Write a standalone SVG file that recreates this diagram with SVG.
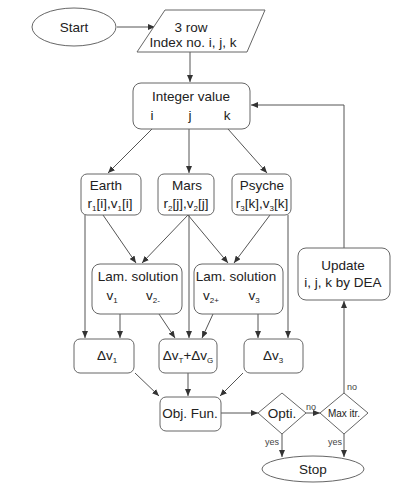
<svg xmlns="http://www.w3.org/2000/svg" width="420" height="489" viewBox="0 0 420 489">
<defs>
<marker id="ah" markerWidth="7" markerHeight="6" refX="7" refY="3" orient="auto" markerUnits="userSpaceOnUse"><path d="M0,0 L7,3 L0,6 z" fill="#333"/></marker>
<style>
.n{fill:#fff;stroke:#666;stroke-width:1}
.c line,.c polyline{stroke:#555;stroke-width:1;fill:none;marker-end:url(#ah)}
text{font-family:"Liberation Sans",Arial,sans-serif;fill:#222;text-anchor:middle}
.t{font-size:13.5px}
.s{font-size:9px;fill:#444}
.sub{font-size:8px}
</style>
</defs>
<rect width="420" height="489" fill="#fff"/>
<g class="c">
<line x1="117" y1="27" x2="155" y2="27"/>
<line x1="190" y1="52" x2="190" y2="82"/>
<line x1="152" y1="129" x2="108" y2="173"/>
<line x1="189" y1="129" x2="189" y2="173"/>
<line x1="228" y1="129" x2="267" y2="173"/>
<line x1="85" y1="215" x2="85" y2="338"/>
<line x1="103" y1="215" x2="136" y2="263"/>
<line x1="188" y1="215" x2="142" y2="263"/>
<line x1="188" y1="215" x2="228" y2="263"/>
<line x1="189" y1="215" x2="189" y2="338"/>
<line x1="270" y1="215" x2="234" y2="263"/>
<line x1="288" y1="215" x2="288" y2="338"/>
<line x1="120" y1="314" x2="120" y2="338"/>
<line x1="159" y1="314" x2="175" y2="338"/>
<line x1="213" y1="314" x2="202" y2="338"/>
<line x1="258" y1="314" x2="258" y2="338"/>
<line x1="135" y1="373" x2="159" y2="396"/>
<line x1="188" y1="373" x2="188" y2="396"/>
<line x1="243" y1="373" x2="220" y2="396"/>
<line x1="221" y1="413" x2="258" y2="413"/>
<line x1="306" y1="413" x2="320" y2="413"/>
<polyline points="344,393 344,301"/>
<polyline points="344,248 344,105 251,105"/>
<line x1="282" y1="434" x2="282" y2="457"/>
<line x1="344" y1="434" x2="344" y2="457"/>
<text class="s" x="311" y="410">no</text>
<text class="s" x="352" y="390">no</text>
<text class="s" x="272" y="445">yes</text>
<text class="s" x="335" y="445">yes</text>
</g>
<g id="start"><ellipse class="n" cx="74" cy="27" rx="42" ry="19"/><text class="t" x="74" y="32">Start</text></g>
<g id="input"><polygon class="n" points="165,10 265,10 247,52 137,52"/><text class="t" x="191" y="32">3 row</text><text class="t" x="193" y="47">Index no. i, j, k</text></g>
<g id="integer"><rect class="n" x="133" y="83" width="117" height="46" rx="8"/><text class="t" x="191" y="101">Integer value</text><text class="t" x="152" y="120">i</text><text class="t" x="190" y="120">j</text><text class="t" x="227" y="120">k</text></g>
<g id="earth"><rect class="n" x="81" y="174" width="60" height="41" rx="6"/><text class="t" x="106" y="190">Earth</text><text class="t" x="110" y="208">r<tspan class="sub" dy="3">1</tspan><tspan dy="-3">[i],v</tspan><tspan class="sub" dy="3">1</tspan><tspan dy="-3">[i]</tspan></text></g>
<g id="mars"><rect class="n" x="158" y="174" width="56" height="41" rx="6"/><text class="t" x="187" y="190">Mars</text><text class="t" x="186" y="208">r<tspan class="sub" dy="3">2</tspan><tspan dy="-3">[j],v</tspan><tspan class="sub" dy="3">2</tspan><tspan dy="-3">[j]</tspan></text></g>
<g id="psyche"><rect class="n" x="232" y="174" width="59" height="41" rx="6"/><text class="t" x="262" y="190">Psyche</text><text class="t" x="262" y="208">r<tspan class="sub" dy="3">3</tspan><tspan dy="-3">[k],v</tspan><tspan class="sub" dy="3">3</tspan><tspan dy="-3">[k]</tspan></text></g>
<g id="lam1"><rect class="n" x="92" y="264" width="90" height="50" rx="8"/><text class="t" x="138" y="281">Lam. solution</text><text class="t" x="112" y="300">v<tspan class="sub" dy="3">1</tspan></text><text class="t" x="153" y="300">v<tspan class="sub" dy="3">2-</tspan></text></g>
<g id="lam2"><rect class="n" x="194" y="264" width="89" height="50" rx="8"/><text class="t" x="236" y="281">Lam. solution</text><text class="t" x="211" y="300">v<tspan class="sub" dy="3">2+</tspan></text><text class="t" x="254" y="300">v<tspan class="sub" dy="3">3</tspan></text></g>
<g id="dv1"><rect class="n" x="74" y="339" width="60" height="34" rx="6"/><text class="t" x="107" y="360">Δv<tspan class="sub" dy="3">1</tspan></text></g>
<g id="dvtg"><rect class="n" x="159" y="339" width="58" height="34" rx="6"/><text class="t" x="188" y="360">Δv<tspan class="sub" dy="3">T</tspan><tspan dy="-3">+Δv</tspan><tspan class="sub" dy="3">G</tspan></text></g>
<g id="dv3"><rect class="n" x="244" y="339" width="59" height="34" rx="6"/><text class="t" x="273" y="360">Δv<tspan class="sub" dy="3">3</tspan></text></g>
<g id="obj"><rect class="n" x="160" y="397" width="61" height="34" rx="6"/><text class="t" x="190" y="418">Obj. Fun.</text></g>
<g id="opti"><polygon class="n" points="258,413 282,393 306,413 282,434"/><text class="t" x="282" y="418">Opti.</text></g>
<g id="maxitr"><polygon class="n" points="320,413 344,393 368,413 344,434"/><text x="344" y="417" style="font-size:10px">Max itr.</text></g>
<g id="update"><rect class="n" x="298" y="248" width="92" height="52" rx="8"/><text class="t" x="343" y="270">Update</text><text class="t" x="343" y="287">i, j, k by DEA</text></g>
<g id="stop"><ellipse class="n" cx="313" cy="469" rx="51" ry="13"/><text class="t" x="313" y="474">Stop</text></g>
</svg>
